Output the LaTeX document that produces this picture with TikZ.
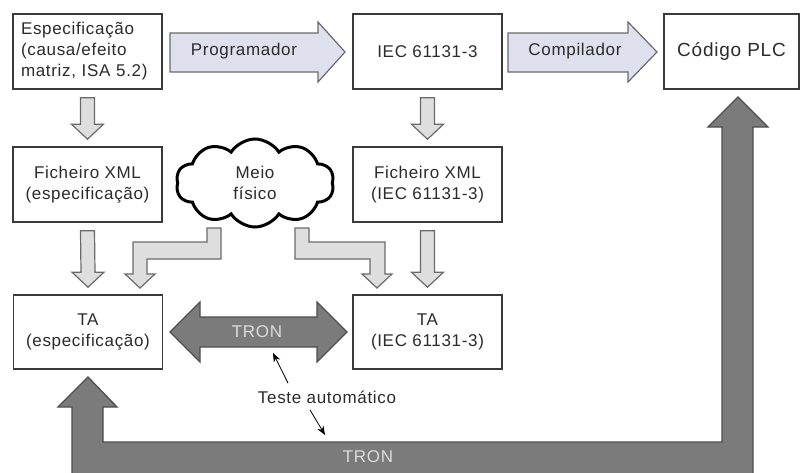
\documentclass[tikz,border=0pt]{standalone}
\usepackage{fontspec}
\setmainfont{Liberation Sans}[LetterSpace=4]
\usetikzlibrary{shapes.symbols,calc,arrows.meta}

\definecolor{boxline}{HTML}{3A3A3A}
\definecolor{txt}{HTML}{2B2B2B}
\definecolor{arrline}{HTML}{6A6A6A}
\definecolor{arrfill}{HTML}{DEDEDE}
\definecolor{arrblue}{HTML}{DFE0EE}
\definecolor{darkfill}{HTML}{7B7B7B}
\definecolor{darkline}{HTML}{4D4D4D}
\definecolor{trontxt}{HTML}{DCDCDC}

\newcommand\diagfont{\fontsize{17}{21}\selectfont}

% straight light-grey block arrow from the bottom of one box to the top of the next
\newcommand\dropto[2]{%
  \coordinate (s) at ($(#1.south)+(0,8)$);
  \coordinate (t) at ($(#2.north)+(0,-7)$);
  \draw[lightarrow] ($(s)+(-7,0)$) -- ($(t)+(-7,-15)$) -- ($(t)+(-16,-15)$) -- (t)
    -- ($(t)+(16,-15)$) -- ($(t)+(7,-15)$) -- ($(s)+(7,0)$) -- cycle;}

\begin{document}
\begin{tikzpicture}[x=1pt,y=-1pt,
  box/.style={draw=boxline, line width=1.6pt, fill=white, minimum width=149pt,
    minimum height=75pt, align=center, text=txt, inner sep=2pt, font=\diagfont},
  lightarrow/.style={draw=arrline, fill=arrfill, line width=1.2pt},
  bluearrow/.style={draw=arrline, fill=arrblue, line width=1.2pt},
  darkarrow/.style={draw=darkline, fill=darkfill, line width=1.3pt},
  arrowlabel/.style={text=txt, font=\diagfont},
  tronlabel/.style={text=trontxt, font=\diagfont},
  pointer/.style={draw=black, line width=0.8pt, -{Stealth[length=9pt,width=7pt]}}]

\useasboundingbox (0,0) rectangle (803,472);
\clip (0,0) rectangle (803,472);

% boxes
\node[box, text width=133pt, align=left] (spec) at (87.5,51.5)
  {Especificação\\(causa/efeito\\matriz, ISA 5.2)};
\node[box] (iec) at (427.5,51.5) {IEC 61131-3};
\node[box, minimum width=135pt, font=\fontsize{19}{22}\selectfont] (plc) at (731.5,51.5) {Código PLC};
\node[box] (xmls) at (87.5,184.5) {Ficheiro XML\\(especificação)};
\node[box] (xmli) at (427.5,184.5) {Ficheiro XML\\(IEC 61131-3)};
\node[box, minimum height=74pt] (tas) at (88,332) {TA\\(especificação)};
\node[box, minimum height=74pt] (tai) at (427.5,332) {TA\\(IEC 61131-3)};

% cloud
\node[cloud, draw=black, line width=3pt, fill=white, cloud puffs=10, cloud puff arc=115,
  aspect=1.8, minimum width=158pt, minimum height=88pt, align=center,
  text=txt, font=\diagfont] (cloud) at (255,183) {Meio\\físico};

% horizontal block arrows on the top row
\draw[bluearrow] (170,33) -- (318,33) -- (318,22) -- (345,52) -- (318,82) -- (318,72) -- (170,72) -- cycle;
\node[arrowlabel] (prog) at (244,51) {Programador};
\draw[bluearrow] (508,33) -- (628,33) -- (628,22) -- (657,52) -- (628,82) -- (628,72) -- (508,72) -- cycle;
\node[arrowlabel] (comp) at (575,51) {Compilador};

% vertical block arrows
\dropto{spec}{xmls}
\dropto{iec}{xmli}
\dropto{xmls}{tas}
\dropto{xmli}{tai}

% bent arrows out of the cloud
\draw[lightarrow] (207,228) -- (207,242) -- (133,242) -- (133,274) -- (125,274) -- (140,288)
  -- (155,274) -- (147,274) -- (147,259) -- (221,259) -- (221,228) -- cycle;
\draw[lightarrow] (295,228) -- (295,259) -- (370,259) -- (370,274) -- (362,274) -- (377,288)
  -- (392,274) -- (385,274) -- (385,242) -- (309,242) -- (309,228) -- cycle;

% TRON double arrow between the two test automata
\draw[darkarrow] (170,332) -- (200,302) -- (200,317) -- (317,317) -- (317,302) -- (347,332)
  -- (317,362) -- (317,347) -- (200,347) -- (200,362) -- cycle;
\node[tronlabel] (tron1) at (257,332) {TRON};

% TRON loop from the specification automaton to the PLC code
\draw[darkarrow] (88,377) -- (117,407) -- (103,407) -- (103,442) -- (722,442) -- (722,127)
  -- (708,127) -- (738,97) -- (768,127) -- (753,127) -- (753,480) -- (72,480) -- (72,407)
  -- (58,407) -- cycle;
\node[tronlabel] (tron2) at (368,457) {TRON};

% automatic test label with pointers
\node[text=txt, font=\diagfont] (auto) at (327,397) {Teste automático};
\coordinate (p1) at (273,353);
\coordinate (p2) at (325,435);
\draw[pointer] ($(auto.north)+(-39,-4)$) -- (p1);
\draw[pointer] ($(auto.south)+(-17,3)$) -- (p2);
\end{tikzpicture}
\end{document}
